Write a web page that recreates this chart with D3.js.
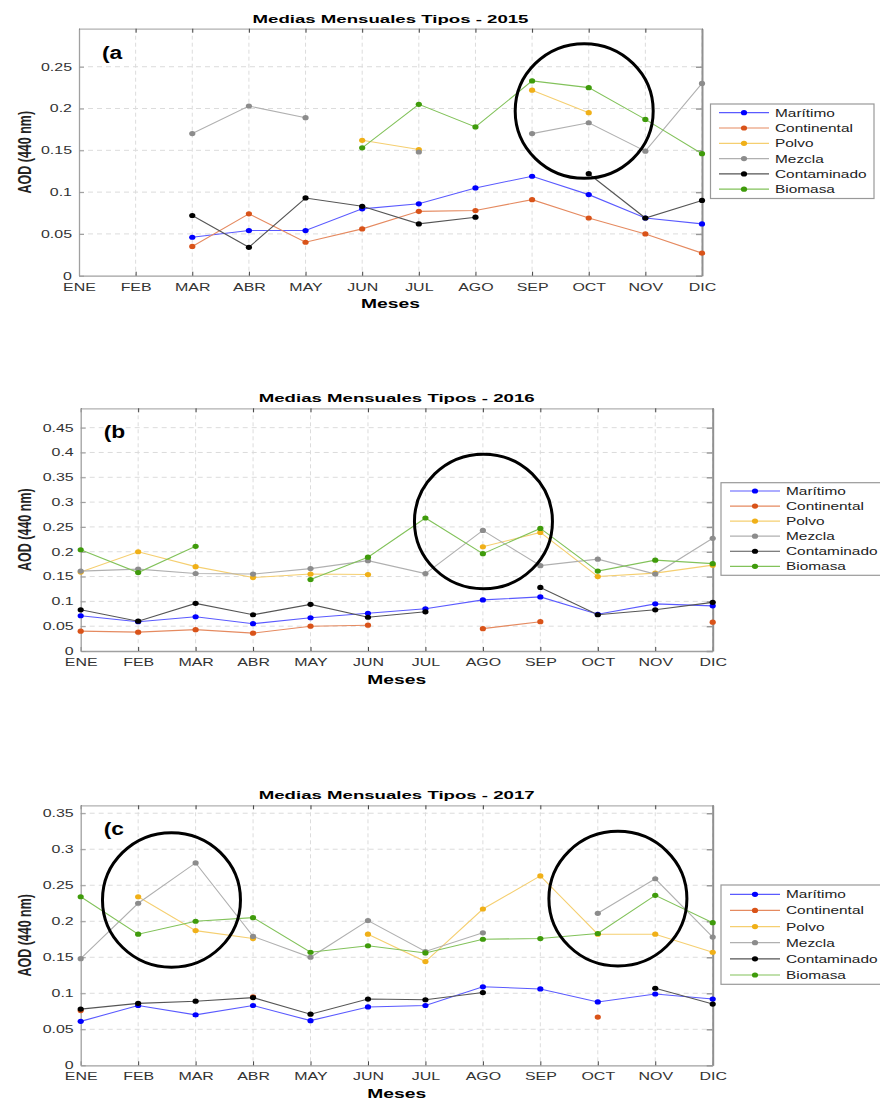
<!DOCTYPE html>
<html>
<head>
<meta charset="utf-8">
<script src="https://cdn.jsdelivr.net/npm/d3@7"></script>
<style>
  body { margin: 0; background: #fff; }
  text { font-family: "Liberation Sans", Arial, sans-serif; }
</style>
</head>
<body>
<script>
const N = null;
const months = ["ENE", "FEB", "MAR", "ABR", "MAY", "JUN", "JUL", "AGO", "SEP", "OCT", "NOV", "DIC"];
const seriesNames = ["Marítimo", "Continental", "Polvo", "Mezcla", "Contaminado", "Biomasa"];
const markerColors = ["#0000ff", "#d95319", "#f0b018", "#8c8c8c", "#000000", "#3f9b0b"];
const lineColors = ["#5a5aff", "#e58a60", "#f5cf70", "#b0b0b0", "#555555", "#82c25a"];

// 2015
const maritimo2015 = [N, N, 0.046, 0.054, 0.054, 0.080, 0.086, 0.105, 0.119, 0.097, 0.069, 0.062];
const continental2015 = [N, N, 0.035, 0.074, 0.040, 0.056, 0.077, 0.078, 0.091, 0.069, 0.050, 0.027];
const polvo2015 = [N, N, N, N, N, 0.162, 0.151, N, 0.222, 0.195, N, N];
const mezcla2015 = [N, N, 0.170, 0.203, 0.189, N, 0.148, N, 0.170, 0.183, 0.149, 0.230];
const contaminado2015 = [N, N, 0.072, 0.034, 0.093, 0.083, 0.062, 0.070, N, 0.122, 0.069, 0.090];
const biomasa2015 = [N, N, N, N, N, 0.153, 0.205, 0.178, 0.233, 0.225, 0.187, 0.146];

// 2016
const maritimo2016 = [0.071, 0.059, 0.069, 0.055, 0.067, 0.076, 0.085, 0.103, 0.109, 0.074, 0.095, 0.091];
const continental2016 = [0.040, 0.038, 0.043, 0.036, 0.050, 0.052, N, 0.045, 0.059, N, N, 0.058];
const polvo2016 = [0.159, 0.200, 0.170, 0.148, 0.155, 0.154, N, 0.210, 0.239, 0.150, 0.157, 0.173];
const mezcla2016 = [0.161, 0.165, 0.156, 0.155, 0.166, 0.182, 0.156, 0.243, 0.172, 0.185, 0.155, 0.227];
const contaminado2016 = [0.083, 0.060, 0.096, 0.073, 0.094, 0.068, 0.079, N, 0.128, 0.073, 0.083, 0.098];
const biomasa2016 = [0.204, 0.158, 0.211, N, 0.144, 0.189, 0.268, 0.196, 0.247, 0.161, 0.183, 0.176];

// 2017
const maritimo2017 = [0.061, 0.083, 0.070, 0.083, 0.062, 0.081, 0.083, 0.109, 0.106, 0.088, 0.099, 0.092];
const continental2017 = [0.076, N, N, 0.095, N, N, N, N, N, 0.067, N, N];
const polvo2017 = [N, 0.234, 0.187, 0.176, N, 0.182, 0.144, 0.217, 0.263, 0.182, 0.182, 0.157];
const mezcla2017 = [0.148, 0.225, 0.281, 0.179, 0.150, 0.201, 0.158, 0.184, N, 0.211, 0.259, 0.178];
const contaminado2017 = [0.078, 0.086, 0.089, 0.094, 0.071, 0.092, 0.091, 0.101, N, N, 0.107, 0.085];
const biomasa2017 = [0.234, 0.182, 0.200, 0.205, 0.157, 0.166, 0.156, 0.175, 0.176, 0.183, 0.236, 0.198];

const yTicks2015 = [0, 0.05, 0.1, 0.15, 0.2, 0.25];
const yTicks2016 = [0, 0.05, 0.1, 0.15, 0.2, 0.25, 0.3, 0.35, 0.4, 0.45];
const yTicks2017 = [0, 0.05, 0.1, 0.15, 0.2, 0.25, 0.3, 0.35];

// highlighted zones: [month position, AOD value]
const circles2015 = [[8.92, 0.197]];
const circles2016 = [[7.01, 0.261]];
const circles2017 = [[1.58, 0.2296], [9.35, 0.2314]];

const panels = [
  { year: "2015", tag: "(a", yMax: 0.2955, ticks: yTicks2015, circles: circles2015,
    series: [maritimo2015, continental2015, polvo2015, mezcla2015, contaminado2015, biomasa2015],
    left: 79, right: 702, top: 28.7, bottom: 275.7,
    legend: { x: 710.5, y: 104, w: 163.5, h: 94.5, row0: 112.7, step: 15.3, lx: 719, tx: 775 } },
  { year: "2016", tag: "(b", yMax: 0.489, ticks: yTicks2016, circles: circles2016,
    series: [maritimo2016, continental2016, polvo2016, mezcla2016, contaminado2016, biomasa2016],
    left: 80.7, right: 712.7, top: 408.3, bottom: 651,
    legend: { x: 721, y: 482.7, w: 165, h: 92.6, row0: 491, step: 15.06, lx: 730, tx: 786 } },
  { year: "2017", tag: "(c", yMax: 0.361, ticks: yTicks2017, circles: circles2017,
    series: [maritimo2017, continental2017, polvo2017, mezcla2017, contaminado2017, biomasa2017],
    left: 80.7, right: 712.7, top: 805.3, bottom: 1065.3,
    legend: { x: 721, y: 885, w: 165, h: 99.3, row0: 894.3, step: 16.14, lx: 730, tx: 786 } }
];

const svg = d3.select("body").append("svg")
    .attr("width", 880)
    .attr("height", 1099)

svg.append("rect").attr("width", 880).attr("height", 1099).attr("fill", "#fff")

// text that is wider than the font would draw it
function wideText(parent, x, y, str, sx, size, weight, anchor) {
  return parent.append("text")
      .attr("transform", "translate(" + x + "," + y + ") scale(" + sx + ",1)")
      .attr("text-anchor", anchor || "start")
      .style("font-size", size + "px")
      .style("font-weight", weight || "normal")
      .text(str)
}

panels.forEach(p => {
  const x = d3.scalePoint().domain(months).range([p.left, p.right])
  const y = d3.scaleLinear().domain([0, p.yMax]).range([p.bottom, p.top])
  const g = svg.append("g")

  // grid
  g.append("g").selectAll("line")
      .data(months.slice(1))
      .join("line")
      .attr("x1", d => x(d)).attr("x2", d => x(d))
      .attr("y1", p.top).attr("y2", p.bottom)
      .attr("stroke", "#dcdcdc").attr("stroke-dasharray", "4,3")
  g.append("g").selectAll("line")
      .data(p.ticks.slice(1))
      .join("line")
      .attr("x1", p.left).attr("x2", p.right)
      .attr("y1", d => y(d)).attr("y2", d => y(d))
      .attr("stroke", "#dcdcdc").attr("stroke-dasharray", "5,4")

  // axes
  const xAxis = g.append("g")
      .attr("transform", "translate(0," + p.bottom + ")")
      .call(d3.axisBottom(x).tickSizeInner(-4).tickSizeOuter(0))
  xAxis.select(".domain").attr("stroke", "#a0a0a0").attr("stroke-width", 1.3)
  xAxis.selectAll(".tick line").attr("stroke", "#444")
  xAxis.selectAll(".tick text")
      .attr("y", 15).attr("dy", 0)
      .attr("transform", "scale(1.52,1)")
      .attr("fill", "#333")
      .style("font-size", "10.5px")
      .style("font-family", "'Liberation Sans', Arial, sans-serif")

  const topAxis = g.append("g")
      .attr("transform", "translate(0," + p.top + ")")
      .call(d3.axisTop(x).tickSizeInner(-4).tickSizeOuter(0).tickFormat(""))
  topAxis.select(".domain").attr("stroke", "#b0b0b0").attr("stroke-width", 1.3)
  topAxis.selectAll(".tick line").attr("stroke", "#444")

  const yAxis = g.append("g")
      .attr("transform", "translate(" + p.left + ",0)")
      .call(d3.axisLeft(y).tickValues(p.ticks).tickSizeInner(-5).tickSizeOuter(0).tickFormat(d => String(+d.toFixed(2))))
  yAxis.select(".domain").attr("stroke", "#a0a0a0").attr("stroke-width", 1.3)
  yAxis.selectAll(".tick line").attr("stroke", "#999")
  yAxis.selectAll(".tick text")
      .attr("x", -7 / 1.52)
      .attr("transform", "scale(1.52,1)")
      .attr("fill", "#333")
      .style("font-size", "10.5px")
      .style("font-family", "'Liberation Sans', Arial, sans-serif")

  const rightAxis = g.append("g")
      .attr("transform", "translate(" + p.right + ",0)")
      .call(d3.axisRight(y).tickValues(p.ticks).tickSizeInner(-6).tickSizeOuter(0).tickFormat(""))
  rightAxis.select(".domain").attr("stroke", "#909090").attr("stroke-width", 2)
  rightAxis.selectAll(".tick line").attr("stroke", "#999").attr("stroke-width", 1.5)

  // series
  const line = d3.line()
      .defined(d => d[1] != null)
      .x(d => x(months[d[0]]))
      .y(d => y(d[1]))

  p.series.forEach((vals, i) => {
    const pts = vals.map((v, j) => [j, v])
    g.append("path")
        .datum(pts)
        .attr("d", line)
        .attr("fill", "none")
        .attr("stroke", lineColors[i])
        .attr("stroke-width", 1.1)
    g.append("g").selectAll("ellipse")
        .data(pts.filter(d => d[1] != null))
        .join("ellipse")
        .attr("cx", d => x(months[d[0]]))
        .attr("cy", d => y(d[1]))
        .attr("rx", 3.1).attr("ry", 2.6)
        .attr("fill", markerColors[i])
  })

  // titles
  wideText(g, (p.left + p.right) / 2, p.top - 6, "Medias Mensuales Tipos - " + p.year, 1.62, 11.5, "bold", "middle")
  wideText(g, (p.left + p.right) / 2, p.bottom + 32.5, "Meses", 1.54, 12.5, "bold", "middle")
  g.append("text")
      .attr("transform", "translate(31," + ((p.top + p.bottom) / 2) + ") rotate(-90) scale(1,1.5)")
      .attr("text-anchor", "middle")
      .style("font-size", "12.5px")
      .style("font-weight", "bold")
      .attr("fill", "#222")
      .text("AOD (440 nm)")
  wideText(g, p.left + 23, p.top + 30, p.tag, 1.2, 19, "bold", "start")

  // legend
  const L = p.legend
  const lg = g.append("g")
  lg.append("rect")
      .attr("x", L.x).attr("y", L.y).attr("width", L.w).attr("height", L.h)
      .attr("fill", "#fff").attr("stroke", "#999").attr("stroke-width", 1.2)
  seriesNames.forEach((name, i) => {
    const ry = L.row0 + i * L.step
    lg.append("line")
        .attr("x1", L.lx).attr("x2", L.lx + 50)
        .attr("y1", ry).attr("y2", ry)
        .attr("stroke", lineColors[i]).attr("stroke-width", 1.2)
    lg.append("ellipse")
        .attr("cx", L.lx + 25).attr("cy", ry)
        .attr("rx", 3.1).attr("ry", 2.6)
        .attr("fill", markerColors[i])
    wideText(lg, L.tx, ry + 4, name, 1.4, 11, "normal", "start").attr("fill", "#222")
  })

  // highlight circles
  g.append("g").selectAll("ellipse")
      .data(p.circles)
      .join("ellipse")
      .attr("cx", d => p.left + d[0] * x.step())
      .attr("cy", d => y(d[1]))
      .attr("rx", 69).attr("ry", 67.3)
      .attr("fill", "none")
      .attr("stroke", "#000")
      .attr("stroke-width", 3)
})
</script>
</body>
</html>
